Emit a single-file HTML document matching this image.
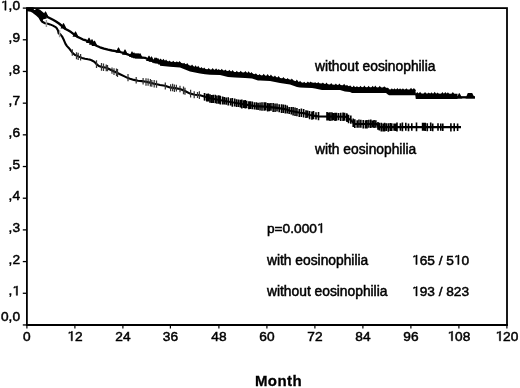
<!DOCTYPE html>
<html><head><meta charset="utf-8"><style>
html,body{margin:0;padding:0;background:#fff;width:520px;height:388px;overflow:hidden}
svg{display:block;filter:blur(0.45px)}
.t{font-family:"Liberation Sans",sans-serif;font-size:13.7px;fill:#000;stroke:#000;stroke-width:0.5px}
.w{font-family:"Liberation Sans",sans-serif;font-size:13.8px;fill:#000;stroke:#000;stroke-width:0.5px}
.h{fill-opacity:0;stroke-opacity:0}
.one{fill:#000;stroke:#000;stroke-width:0.5px}
.b{font-family:"Liberation Sans",sans-serif;font-size:15px;font-weight:bold;letter-spacing:0.45px;fill:#000;stroke:#000;stroke-width:0.3px}
</style></head><body>
<svg width="520" height="388" viewBox="0 0 520 388">
<rect x="26.9" y="8.1" width="480.1" height="316.85" fill="none" stroke="#000" stroke-width="1.8"/>
<line x1="26" y1="325.0" x2="507.9" y2="325.0" stroke="#000" stroke-width="2.1"/>
<line x1="22.8" y1="324.95" x2="26.9" y2="324.95" stroke="#000" stroke-width="1.3"/>
<text id="q1" x="20" y="321.45" text-anchor="end" class="t">0,0</text>
<line x1="22.8" y1="293.26" x2="26.9" y2="293.26" stroke="#000" stroke-width="1.3"/>
<text id="q2" x="20" y="295.37" text-anchor="end" class="t">,<tspan class="h">1</tspan></text>
<line x1="22.8" y1="261.58" x2="26.9" y2="261.58" stroke="#000" stroke-width="1.3"/>
<text id="q3" x="20" y="263.68" text-anchor="end" class="t">,2</text>
<line x1="22.8" y1="229.89" x2="26.9" y2="229.89" stroke="#000" stroke-width="1.3"/>
<text id="q4" x="20" y="231.99" text-anchor="end" class="t">,3</text>
<line x1="22.8" y1="198.21" x2="26.9" y2="198.21" stroke="#000" stroke-width="1.3"/>
<text id="q5" x="20" y="200.31" text-anchor="end" class="t">,4</text>
<line x1="22.8" y1="166.53" x2="26.9" y2="166.53" stroke="#000" stroke-width="1.3"/>
<text id="q6" x="20" y="168.62" text-anchor="end" class="t">,5</text>
<line x1="22.8" y1="134.84" x2="26.9" y2="134.84" stroke="#000" stroke-width="1.3"/>
<text id="q7" x="20" y="136.94" text-anchor="end" class="t">,6</text>
<line x1="22.8" y1="103.16" x2="26.9" y2="103.16" stroke="#000" stroke-width="1.3"/>
<text id="q8" x="20" y="105.25" text-anchor="end" class="t">,7</text>
<line x1="22.8" y1="71.47" x2="26.9" y2="71.47" stroke="#000" stroke-width="1.3"/>
<text id="q9" x="20" y="73.57" text-anchor="end" class="t">,8</text>
<line x1="22.8" y1="39.79" x2="26.9" y2="39.79" stroke="#000" stroke-width="1.3"/>
<text id="q10" x="20" y="41.89" text-anchor="end" class="t">,9</text>
<line x1="22.8" y1="8.10" x2="26.9" y2="8.10" stroke="#000" stroke-width="1.3"/>
<text id="q11" x="20" y="10.20" text-anchor="end" class="t"><tspan class="h">1</tspan>,0</text>
<line x1="26.90" y1="325" x2="26.90" y2="328.6" stroke="#000" stroke-width="1.2"/>
<text id="q12" x="26.90" y="340.8" text-anchor="middle" class="t">0</text>
<line x1="74.90" y1="325" x2="74.90" y2="328.6" stroke="#000" stroke-width="1.2"/>
<text id="q13" x="74.90" y="340.8" text-anchor="middle" class="t"><tspan class="h">1</tspan>2</text>
<line x1="122.90" y1="325" x2="122.90" y2="328.6" stroke="#000" stroke-width="1.2"/>
<text id="q14" x="122.90" y="340.8" text-anchor="middle" class="t">24</text>
<line x1="170.40" y1="325" x2="170.40" y2="328.6" stroke="#000" stroke-width="1.2"/>
<text id="q15" x="170.40" y="340.8" text-anchor="middle" class="t">36</text>
<line x1="218.90" y1="325" x2="218.90" y2="328.6" stroke="#000" stroke-width="1.2"/>
<text id="q16" x="218.90" y="340.8" text-anchor="middle" class="t">48</text>
<line x1="266.90" y1="325" x2="266.90" y2="328.6" stroke="#000" stroke-width="1.2"/>
<text id="q17" x="266.90" y="340.8" text-anchor="middle" class="t">60</text>
<line x1="314.90" y1="325" x2="314.90" y2="328.6" stroke="#000" stroke-width="1.2"/>
<text id="q18" x="314.90" y="340.8" text-anchor="middle" class="t">72</text>
<line x1="362.90" y1="325" x2="362.90" y2="328.6" stroke="#000" stroke-width="1.2"/>
<text id="q19" x="362.90" y="340.8" text-anchor="middle" class="t">84</text>
<line x1="410.90" y1="325" x2="410.90" y2="328.6" stroke="#000" stroke-width="1.2"/>
<text id="q20" x="410.90" y="340.8" text-anchor="middle" class="t">96</text>
<line x1="458.90" y1="325" x2="458.90" y2="328.6" stroke="#000" stroke-width="1.2"/>
<text id="q21" x="458.90" y="340.8" text-anchor="middle" class="t"><tspan class="h">1</tspan>08</text>
<line x1="506.90" y1="325" x2="506.90" y2="328.6" stroke="#000" stroke-width="1.2"/>
<text id="q22" x="506.90" y="340.8" text-anchor="middle" class="t"><tspan class="h">1</tspan>20</text>
<text x="278.5" y="386.3" text-anchor="middle" class="b">Month</text>
<polyline points="26.90,8.30 33.00,8.50 36.00,9.30 39.00,10.50 42.00,12.90 45.00,15.30 48.00,17.30 50.00,18.30 53.00,19.80 56.00,21.50 59.00,23.50 62.00,26.00 65.00,28.80 68.00,30.30 71.00,32.10 74.00,34.40 77.00,36.60 80.00,38.00 83.00,39.60 85.00,40.00 88.00,41.40 91.00,42.90 94.00,44.50 97.00,46.00 100.00,47.30 104.00,48.70 108.00,49.70 112.00,50.50 116.00,51.10 120.00,52.00 124.00,53.20 129.00,54.90 132.00,55.70 135.00,57.00 140.00,57.30 145.00,57.80 149.00,59.80 153.00,61.10 158.00,62.30 162.00,63.80" fill="none" stroke="#000" stroke-width="2.3" stroke-linejoin="round"/>
<polygon points="160.00,59.70 170.00,61.70 180.00,62.60 185.00,64.10 190.00,65.50 195.00,66.90 200.00,67.90 205.00,68.90 210.00,69.50 220.00,70.10 228.00,71.10 235.00,72.00 245.00,72.50 252.00,73.50 258.00,74.90 260.00,75.15 270.00,76.10 280.00,78.00 290.00,79.50 297.00,81.40 300.00,82.15 305.00,82.90 312.00,82.60 315.00,83.10 322.00,83.60 330.00,84.60 340.00,85.00 345.00,85.60 350.00,86.50 352.00,87.10 386.00,87.60 387.50,88.40 389.00,89.40 415.30,89.40 415.80,93.50 457.50,93.70 457.50,99.00 415.80,99.00 415.30,95.30 389.00,95.30 387.50,94.20 386.00,93.00 352.00,93.00 350.00,91.90 345.00,91.60 340.00,90.00 330.00,90.00 322.00,90.00 315.00,88.60 312.00,88.10 305.00,87.80 300.00,87.60 297.00,86.90 290.00,84.50 280.00,83.00 270.00,81.10 260.00,80.60 258.00,80.40 252.00,78.50 245.00,78.00 235.00,77.50 228.00,77.00 220.00,75.10 210.00,74.70 205.00,74.35 200.00,73.40 195.00,72.40 190.00,71.50 185.00,69.50 180.00,67.60 170.00,66.70 160.00,65.70" fill="#000"/>
<polyline points="455.00,97.30 475.00,97.30" fill="none" stroke="#000" stroke-width="2.3"/>
<path d="M158.30,61.10L160.50,58.44L162.70,61.10ZM161.18,61.68L163.38,58.75L165.58,61.68ZM163.86,62.21L166.06,59.38L168.26,62.21ZM167.27,62.89L169.47,60.45L171.67,62.89ZM171.04,63.29L173.24,60.86L175.44,63.29ZM174.63,63.61L176.83,61.16L179.03,63.61ZM177.35,63.86L179.55,61.12L181.75,63.86ZM181.92,65.14L184.12,62.64L186.32,65.14ZM184.98,66.01L187.18,63.11L189.38,66.01ZM189.85,67.37L192.05,64.51L194.25,67.37ZM193.34,68.31L195.54,65.13L197.74,68.31ZM195.95,68.83L198.15,65.74L200.35,68.83ZM199.18,69.48L201.38,66.96L203.58,69.48ZM201.97,70.03L204.17,67.39L206.37,70.03ZM206.51,70.65L208.71,68.10L210.91,70.65ZM210.47,70.96L212.67,68.05L214.87,70.96ZM213.90,71.17L216.10,68.33L218.30,71.17ZM216.56,71.33L218.76,68.88L220.96,71.33ZM219.57,71.62L221.77,68.68L223.97,71.62ZM223.14,72.07L225.34,69.42L227.54,72.07ZM227.10,72.57L229.30,69.81L231.50,72.57ZM230.35,72.99L232.55,69.95L234.75,72.99ZM234.60,73.39L236.80,70.79L239.00,73.39ZM238.54,73.59L240.74,70.77L242.94,73.59ZM243.22,73.86L245.42,70.88L247.62,73.86ZM246.44,74.32L248.64,71.14L250.84,74.32ZM249.24,74.72L251.44,71.99L253.64,74.72ZM253.63,75.69L255.83,73.17L258.03,75.69ZM257.35,76.39L259.55,73.96L261.75,76.39ZM261.52,76.80L263.72,73.79L265.92,76.80ZM265.46,77.18L267.66,74.08L269.86,77.18ZM268.74,77.58L270.94,74.62L273.14,77.58ZM272.73,78.34L274.93,75.47L277.13,78.34ZM276.37,79.03L278.57,75.96L280.77,79.03ZM281.23,79.81L283.43,77.04L285.63,79.81ZM285.39,80.44L287.59,77.99L289.79,80.44ZM289.64,81.30L291.84,78.38L294.04,81.30ZM294.63,82.65L296.83,79.60L299.03,82.65ZM297.84,83.46L300.04,80.75L302.24,83.46ZM302.01,84.08L304.21,81.66L306.41,84.08ZM305.66,84.08L307.86,81.54L310.06,84.08ZM308.46,83.96L310.66,81.51L312.86,83.96ZM312.88,84.41L315.08,81.90L317.28,84.41ZM316.00,84.63L318.20,81.92L320.40,84.63ZM320.67,85.01L322.87,82.54L325.07,85.01ZM324.30,85.46L326.50,82.62L328.70,85.46ZM329.01,85.95L331.21,82.89L333.41,85.95ZM333.67,86.13L335.87,83.51L338.07,86.13ZM337.20,86.28L339.40,83.59L341.60,86.28ZM341.92,86.79L344.12,83.63L346.32,86.79ZM344.79,87.26L346.99,84.72L349.19,87.26ZM347.87,87.82L350.07,85.24L352.27,87.82ZM351.58,88.43L353.78,85.55L355.98,88.43ZM354.74,88.47L356.94,86.07L359.14,88.47ZM358.29,88.52L360.49,85.83L362.69,88.52ZM362.20,88.58L364.40,85.42L366.60,88.58ZM366.43,88.64L368.63,85.83L370.83,88.64ZM370.47,88.70L372.67,85.76L374.87,88.70ZM373.11,88.74L375.31,85.62L377.51,88.74ZM377.56,88.81L379.76,85.71L381.96,88.81ZM382.05,88.87L384.25,86.16L386.45,88.87ZM385.55,89.87L387.75,87.39L389.95,89.87ZM389.64,90.70L391.84,88.25L394.04,90.70ZM392.31,90.70L394.51,88.13L396.71,90.70ZM395.21,90.70L397.41,88.03L399.61,90.70ZM397.84,90.70L400.04,88.30L402.24,90.70ZM400.72,90.70L402.92,88.22L405.12,90.70ZM404.13,90.70L406.33,88.28L408.53,90.70ZM408.82,90.70L411.02,87.81L413.22,90.70ZM411.69,90.70L413.89,88.10L416.09,90.70ZM415.06,94.81L417.26,92.12L419.46,94.81ZM417.86,94.82L420.06,91.74L422.26,94.82ZM422.85,94.84L425.05,92.07L427.25,94.84ZM426.56,94.86L428.76,92.39L430.96,94.86ZM429.31,94.88L431.51,92.20L433.71,94.88ZM432.47,94.89L434.67,91.83L436.87,94.89ZM435.38,94.90L437.58,92.49L439.78,94.90ZM440.25,94.93L442.45,92.11L444.65,94.93ZM443.12,94.94L445.32,92.11L447.52,94.94ZM445.69,94.95L447.89,92.13L450.09,94.95ZM450.63,94.98L452.83,91.89L455.03,94.98ZM42.50,16.83L45.10,11.53L45.90,11.53L48.50,16.83ZM60.50,28.60L63.10,23.30L63.90,23.30L66.50,28.60ZM72.50,36.70L75.10,31.40L75.90,31.40L78.50,36.70ZM86.00,43.10L88.60,37.80L89.40,37.80L92.00,43.10ZM89.00,44.63L91.60,39.33L92.40,39.33L95.00,44.63ZM91.50,45.95L94.10,40.65L94.90,40.65L97.50,45.95ZM115.50,52.86L118.10,47.56L118.90,47.56L121.50,52.86ZM122.00,54.74L124.60,49.44L125.40,49.44L128.00,54.74ZM129.00,56.90L131.60,51.60L132.40,51.60L135.00,56.90ZM131.00,57.77L133.60,52.47L134.40,52.47L137.00,57.77ZM133.00,58.26L135.60,52.96L136.40,52.96L139.00,58.26ZM135.00,58.38L137.60,53.08L138.40,53.08L141.00,58.38ZM137.00,58.50L139.60,53.20L140.40,53.20L143.00,58.50ZM146.00,61.00L148.60,55.70L149.40,55.70L152.00,61.00ZM148.50,61.81L151.10,56.51L151.90,56.51L154.50,61.81ZM152.00,62.78L154.60,57.48L155.40,57.48L158.00,62.78ZM153.50,63.14L156.10,57.84L156.90,57.84L159.50,63.14ZM155.00,63.50L157.60,58.20L158.40,58.20L161.00,63.50ZM158.00,64.62L160.60,59.32L161.40,59.32L164.00,64.62ZM456.30,98.50L458.90,93.20L459.70,93.20L462.30,98.50Z" fill="#000"/>
<polygon points="465.5,98.6 467.8,92.9 472.2,92.9 475,98.6" fill="#000"/>
<polygon points="26.90,8.30 33.00,8.50 36.00,9.30 39.00,10.50 42.00,12.90 45.00,15.30 47.00,18.30 45.00,19.10 43.30,19.30 42.30,21.80 40.90,20.00 39.40,17.20 37.00,15.00 35.00,13.40 33.00,11.90 30.50,10.60 27.60,10.30 26.90,8.30" fill="#000"/>
<ellipse cx="34.7" cy="9.5" rx="1.0" ry="0.55" fill="#fff"/>
<polyline points="26.90,8.30 27.60,10.30 30.50,10.60 33.00,11.90 35.00,13.40 37.00,15.00 39.40,17.20 40.90,20.00 42.30,21.80 45.00,23.25 48.00,23.80 50.00,24.40 53.00,25.60 56.00,27.30 57.00,28.70 58.00,30.50 58.70,33.50 60.00,33.90 62.00,36.30 64.00,40.30 65.50,43.90 67.00,46.10 69.00,48.20 71.00,50.90 73.00,53.30 75.00,55.00 77.00,55.60 79.00,56.70 82.00,57.90 85.00,58.70 88.00,59.30 90.00,59.60 92.00,60.50 94.00,61.60 96.00,63.60 98.80,66.00 102.00,67.00 106.50,67.80 110.00,69.50 114.20,71.50 117.00,72.70 120.00,74.20 124.00,76.10 127.00,77.60 130.00,78.80 134.00,79.90 138.00,80.70 142.00,81.10 146.00,81.80 150.00,82.60 154.00,83.80 158.00,84.50 160.00,85.00 165.00,85.70 170.00,87.40 175.00,88.10 180.00,89.00 185.00,91.00 190.00,93.60 195.00,94.80 200.00,95.30 205.00,96.75 210.00,98.20 222.00,100.50 234.60,102.75 245.00,104.50 255.00,106.10 265.00,106.60 275.00,107.60 285.00,109.10 290.00,110.70 295.00,111.80 300.00,112.70 305.00,113.40 310.00,115.00 315.00,115.90 318.00,116.40 345.50,116.70 347.00,117.50 351.50,120.60 354.00,123.50 355.00,124.00 377.00,124.00 378.50,127.10 461.00,127.10" fill="none" stroke="#000" stroke-width="2.1" stroke-linejoin="round"/>
<path d="M72.30,49.20V55.83M76.50,52.28V59.22M78.20,52.73V60.04M80.60,54.01V60.56M96.50,60.22V68.01M101.50,62.99V70.65M103.50,63.45V71.01M106.20,64.52V71.26M107.50,64.93V71.31M112.00,67.42V73.73M114.00,68.15V75.10M116.50,68.53V75.93M117.50,69.01V76.94M128.00,74.04V81.36M136.20,77.12V83.57M143.10,78.10V84.50M146.00,78.18V85.70M148.10,78.38V85.70M150.40,79.07V86.52M151.80,80.06V86.80M154.20,79.93V87.62M156.50,80.49V87.72M165.30,82.62V89.59M170.60,84.15V91.28M172.60,83.79V91.16M174.40,84.61V91.96M176.40,84.63V91.52M180.00,85.87V92.15M183.50,86.50V94.21M185.00,87.85V94.83M190.60,89.76V97.40M194.20,91.26V98.16M197.50,91.92V98.06M199.40,91.27V98.89M204.70,93.14V100.60M207.40,94.01V101.32" stroke="#333" stroke-width="1.25" fill="none"/>
<path d="M313.50,111.06V119.25M316.00,112.27V119.61M318.50,112.05V120.20M395.50,123.46V131.06M397.00,122.60V131.50M400.40,123.32V130.76M402.40,122.59V131.23M405.80,122.83V130.70M408.50,123.54V131.36M411.80,123.13V130.68M416.50,122.57V131.30M422.60,122.72V130.69M423.90,122.66V130.67M425.30,122.65V131.10M427.30,123.23V131.21M430.70,122.58V130.89M432.70,123.46V131.18M438.00,123.34V130.72M440.80,123.42V130.66M442.80,123.38V130.94M450.90,123.26V131.44M454.20,123.28V131.15M457.60,123.40V130.98M204.50,93.09V100.38M206.73,93.73V101.56M208.34,93.61V101.43M209.99,94.17V102.72M211.68,94.91V102.92M213.32,94.86V102.88M215.31,94.80V103.15M216.97,95.48V103.79M218.79,95.30V103.76M220.32,95.76V104.46M222.63,96.41V104.56M224.38,97.04V104.49M226.24,97.61V104.84M228.22,97.30V105.39M230.53,98.34V105.62M232.35,97.92V106.81M234.67,98.52V106.57M236.57,99.31V106.90M238.50,99.40V107.08M240.42,99.74V107.52M241.84,99.41V108.54M243.68,100.18V108.05M245.27,99.98V108.38M246.67,100.87V108.27M248.87,101.20V109.14M250.44,101.32V109.09M252.31,101.62V109.18M254.44,102.22V109.61M256.40,102.23V109.72M258.12,102.73V110.09M260.04,102.60V110.50M262.00,102.37V110.78M264.18,102.34V110.85M265.69,102.20V110.60M267.65,103.01V111.45M269.29,103.37V111.33M270.97,102.99V110.75M273.14,103.00V111.90M275.05,103.42V111.91M277.01,103.51V111.56M279.17,104.15V112.28M281.49,104.15V112.96M283.33,104.44V112.99M285.34,104.73V113.46M287.25,105.56V113.57M289.16,106.90V114.08M291.25,107.08V114.59M293.10,106.96V115.50M295.04,107.62V116.00M296.92,107.90V116.18M299.26,109.06V116.94M301.36,108.57V116.94M303.63,109.12V117.43M305.98,110.14V118.02M307.63,110.47V117.83M309.59,111.08V119.17M311.94,111.62V119.66M327.00,111.92V120.54M328.54,112.59V120.54M330.06,112.28V120.88M331.90,112.37V120.76M333.37,112.98V120.23M335.01,112.81V120.90M336.49,112.77V120.73M338.56,113.11V120.19M340.74,112.85V120.89M343.04,112.41V120.92M344.59,112.87V120.76M346.71,113.33V121.36M347.00,113.87V121.98M348.54,114.84V123.14M350.83,115.61V123.65M353.19,118.56V126.97M354.81,119.34V127.90M357.17,120.20V127.73M358.96,119.46V127.73M360.85,119.86V127.66M363.24,119.92V128.55M365.47,120.35V128.40M367.03,119.94V128.48M368.87,119.73V127.75M370.78,119.51V128.03M372.52,120.47V127.50M374.12,119.96V128.00M375.84,120.17V127.65M377.96,122.10V129.83M379.38,122.68V130.60M381.33,122.77V131.52M383.17,123.47V131.62M384.59,122.82V131.59M386.32,123.28V131.01M388.34,123.17V131.70M390.26,122.95V131.00M391.72,123.13V130.90M394.11,123.55V130.71" stroke="#000" stroke-width="1.6" fill="none"/>
<path d="M46.40,20.01V27.01M59.60,30.28V37.28" stroke="#999" stroke-width="1.4" fill="none"/>
<text id="q23" x="315" y="71" class="w">without eosinophilia</text>
<text id="q24" x="315" y="153.8" class="w">with eosinophilia</text>
<text id="q25" x="267" y="232.8" class="t">p=0.000<tspan class="h">1</tspan></text>
<text id="q26" x="267" y="264.5" class="w">with eosinophilia</text>
<text id="q27" x="412" y="264.5" class="t"><tspan class="h">1</tspan>65 / 5<tspan class="h">1</tspan>0</text>
<text id="q28" x="267" y="295.9" class="w">without eosinophilia</text>
<text id="q29" x="412" y="295.9" class="t"><tspan class="h">1</tspan>93 / 823</text>
<path d="M16.27,295.37L17.48,295.37L17.48,285.94L16.70,285.94L16.32,286.61L15.25,287.51L13.87,288.19L13.87,287.04L15.18,286.34L16.27,287.68Z" class="one"/>
<path d="M4.85,10.20L6.06,10.20L6.06,0.77L5.27,0.77L4.90,1.44L3.83,2.34L2.44,3.02L2.44,1.87L3.76,1.17L4.85,2.51Z" class="one"/>
<path d="M71.17,340.80L72.38,340.80L72.38,331.37L71.60,331.37L71.22,332.04L70.15,332.94L68.77,333.62L68.77,332.47L70.08,331.77L71.17,333.11Z" class="one"/>
<path d="M451.37,340.80L452.57,340.80L452.57,331.37L451.79,331.37L451.42,332.04L450.35,332.94L448.96,333.62L448.96,332.47L450.28,331.77L451.37,333.11Z" class="one"/>
<path d="M499.37,340.80L500.57,340.80L500.57,331.37L499.79,331.37L499.42,332.04L498.35,332.94L496.96,333.62L496.96,332.47L498.28,331.77L499.37,333.11Z" class="one"/>
<path d="M320.76,232.80L321.96,232.80L321.96,223.37L321.18,223.37L320.81,224.04L319.74,224.94L318.35,225.62L318.35,224.47L319.67,223.77L320.76,225.11Z" class="one"/>
<path d="M415.90,264.50L417.10,264.50L417.10,255.07L416.32,255.07L415.95,255.74L414.88,256.64L413.49,257.32L413.49,256.17L414.81,255.47L415.90,256.81Z" class="one"/>
<path d="M457.77,264.50L458.98,264.50L458.98,255.07L458.20,255.07L457.82,255.74L456.75,256.64L455.37,257.32L455.37,256.17L456.68,255.47L457.77,256.81Z" class="one"/>
<path d="M415.90,295.90L417.10,295.90L417.10,286.47L416.32,286.47L415.95,287.14L414.88,288.04L413.49,288.72L413.49,287.57L414.81,286.87L415.90,288.21Z" class="one"/>
</svg>
</body></html>
